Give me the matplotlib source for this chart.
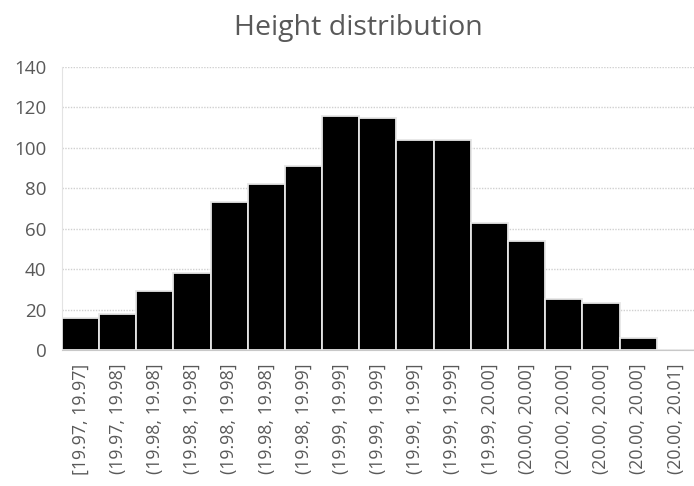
import numpy as np
import matplotlib.pyplot as plt

# bin labels and counts
bins = ["[19.97, 19.97]", "(19.97, 19.98]", "(19.98, 19.98]", "(19.98, 19.98]",
        "(19.98, 19.98]", "(19.98, 19.98]", "(19.98, 19.99]", "(19.99, 19.99]",
        "(19.99, 19.99]", "(19.99, 19.99]", "(19.99, 19.99]", "(19.99, 20.00]",
        "(20.00, 20.00]", "(20.00, 20.00]", "(20.00, 20.00]", "(20.00, 20.00]",
        "(20.00, 20.01]"]
counts = [16, 18, 29, 38, 73, 82, 91, 116, 115, 104, 104, 63, 54, 25, 23, 6, 0]
y_ticks = [0, 20, 40, 60, 80, 100, 120, 140]

plt.rcParams['font.family'] = ['Open Sans', 'DejaVu Sans']
grey = "#595959"

fig = plt.figure(figsize=(6.94, 4.86), dpi=100)
ax = fig.add_axes([0.089, 0.280, 0.911, 0.582])

x = np.arange(len(bins))
ax.bar(x, counts, width=1.0, color="black", edgecolor="#e6e6e6", linewidth=1.3, zorder=3)

ax.set_xlim(-0.5, len(bins) - 0.5)
ax.set_ylim(0, 140)
ax.set_yticks(y_ticks)
ax.set_yticklabels([str(v) for v in y_ticks], fontsize=13.5, color=grey)
ax.set_xticks(x)
ax.set_xticklabels(bins, rotation=90, fontsize=12.8, color=grey)
ax.tick_params(axis="y", length=0, pad=11)
ax.tick_params(axis="x", length=0, pad=10)

ax.grid(True, axis="y", color="#d0d0d0", linestyle=(0, (1, 1)), linewidth=1.0, zorder=0)
for s in ["top", "right"]:
    ax.spines[s].set_visible(False)
ax.spines["left"].set_color("#e3e3e3")
ax.spines["bottom"].set_color("#c8c8c8")

fig.text(0.517, 0.943, "Height distribution", ha="center", va="center",
         fontsize=20.5, color=grey)

fig.savefig("out.png", dpi=100)
